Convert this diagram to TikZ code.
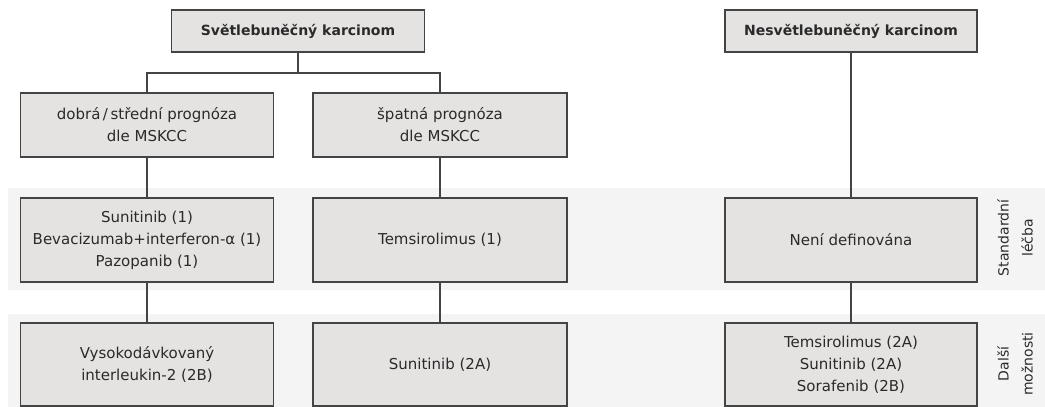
\documentclass[tikz,border=0pt]{standalone}
\usepackage{fontspec}
\setmainfont{DejaVu Sans}
\definecolor{boxfill}{HTML}{E5E3E2}
\definecolor{boxline}{HTML}{444444}
\definecolor{bandfill}{HTML}{F4F4F4}
\definecolor{txt}{HTML}{2A2A2A}
\begin{document}
\begin{tikzpicture}[x=1pt,y=-1pt,
  box/.style={draw=boxline,fill=boxfill,line width=1.2pt,minimum width=253pt,align=center,text=txt,font=\fontsize{15}{22}\selectfont,inner sep=0pt},
  title/.style={font=\fontsize{14}{16}\selectfont\bfseries},
  conn/.style={draw=boxline,line width=1.2pt},
  side/.style={rotate=90,align=center,text=txt,font=\fontsize{14}{24}\selectfont}]
\useasboundingbox (0,0) rectangle (1045,407);
\fill[bandfill] (8,188) rectangle (1045,290);
\fill[bandfill] (8,314) rectangle (1045,407);
\node[box,title,minimum height=42pt] (t1) at (298,31) {Světlebuněčný karcinom};
\node[box,title,minimum height=42pt,minimum width=252pt] (t2) at (851,31) {Nesvětlebuněčný karcinom};
\node[box,minimum height=64pt] (a2) at (147,125) {dobrá\,/\,střední prognóza\\dle MSKCC};
\node[box,minimum height=64pt,minimum width=254pt] (b2) at (440,125) {špatná prognóza\\dle MSKCC};
\node[box,minimum height=84pt] (a3) at (147,240) {Sunitinib (1)\\Bevacizumab+interferon-α (1)\\Pazopanib (1)};
\node[box,minimum height=84pt,minimum width=254pt] (b3) at (440,240) {Temsirolimus (1)};
\node[box,minimum height=84pt,minimum width=252pt] (c3) at (851,240) {Není definována};
\node[box,minimum height=83pt] (a4) at (147,364.5) {Vysokodávkovaný\\interleukin-2 (2B)};
\node[box,minimum height=83pt,minimum width=254pt] (b4) at (440,364.5) {Sunitinib (2A)};
\node[box,minimum height=83pt,minimum width=252pt] (c4) at (851,364.5) {Temsirolimus (2A)\\Sunitinib (2A)\\Sorafenib (2B)};
\coordinate (split) at (298,73);
\draw[conn] (t1.south) -- (split);
\draw[conn] (a2.north) |- (split) -| (b2.north);
\draw[conn] (a2) -- (a3);
\draw[conn] (a3) -- (a4);
\draw[conn] (b2) -- (b3);
\draw[conn] (b3) -- (b4);
\draw[conn] (t2) -- (c3);
\draw[conn] (c3) -- (c4);
\node[side] (l1) at (1015,238) {Standardní\\léčba};
\node[side] (l2) at (1015,364) {Další\\možnosti};
\end{tikzpicture}
\end{document}
